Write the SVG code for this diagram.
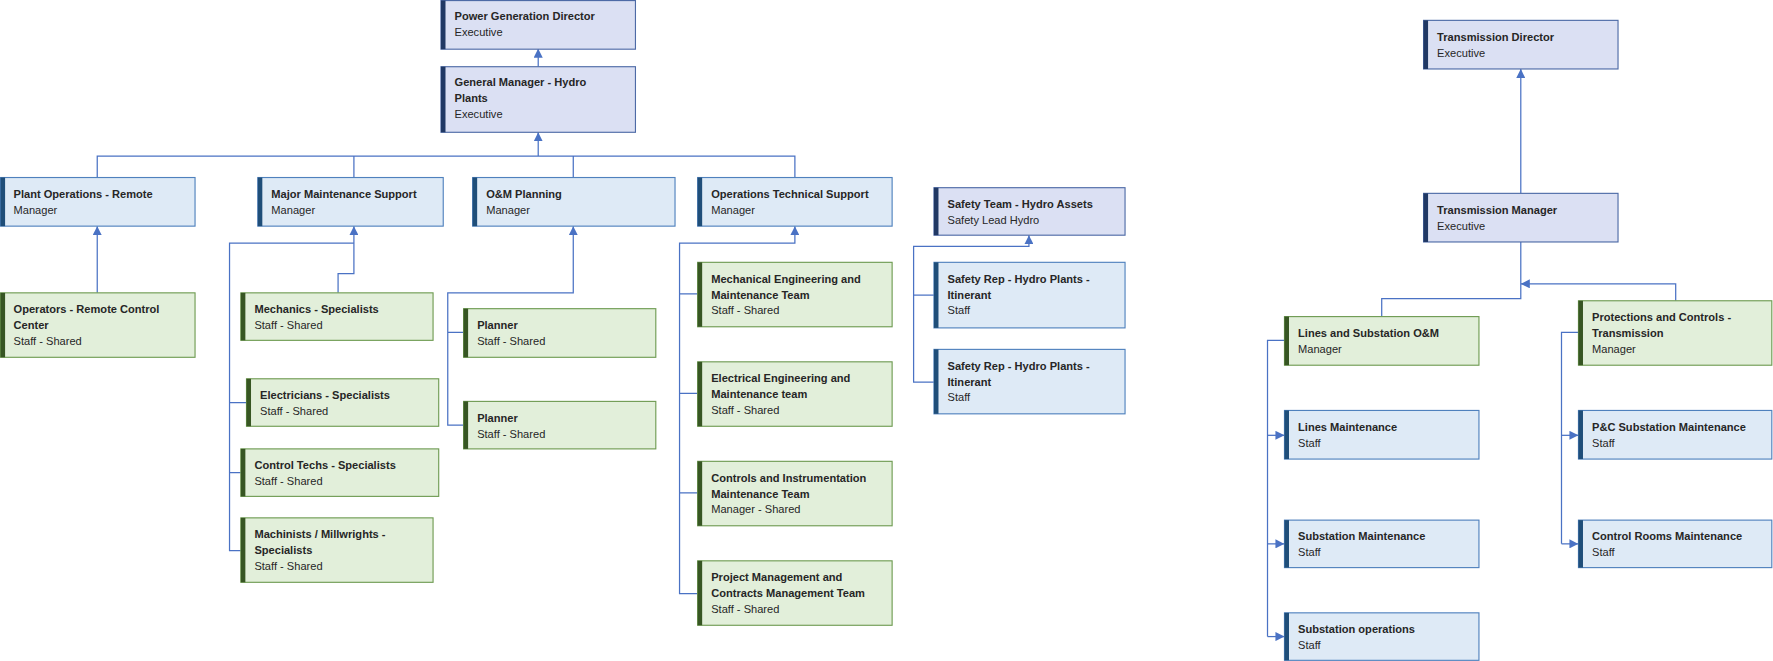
<svg xmlns="http://www.w3.org/2000/svg" width="1773" height="661" viewBox="0 0 1773 661">
<style>
.ex{fill:#dbe0f3;stroke:#4d6aa6;stroke-width:1}
.mg{fill:#deeaf6;stroke:#4f81bd;stroke-width:1}
.st{fill:#e2efda;stroke:#6f9b52;stroke-width:1}
.bex{fill:#203864}.bmg{fill:#1f4e79}.bst{fill:#375623}
text{font-family:"Liberation Sans",Arial,sans-serif;font-size:9.8px;fill:#262626}
.t{font-weight:bold}
.c{fill:none;stroke:#4a72c4;stroke-width:1.1}
</style>
<defs>
<marker id="ah" viewBox="0 0 10 10" refX="10" refY="5" markerWidth="8" markerHeight="8" markerUnits="userSpaceOnUse" orient="auto"><path d="M0,0L10,5L0,10z" fill="#4a72c4"/></marker>
</defs>
<rect width="1773" height="661" fill="#fff"/>
<g transform="scale(1.1307)">
<g id="connectors">
<path class="c" d="M476,59V43" marker-end="url(#ah)"/>
<path class="c" d="M86,157V138H703V157M313,157V138M507,157V138M476,138V117" marker-end="url(#ah)"/>
<path class="c" d="M86,259V200" marker-end="url(#ah)"/>
<path class="c" d="M299,259V242H313V200" marker-end="url(#ah)"/>
<path class="c" d="M213,487H203V215H313M218,356H203M213,418H203"/>
<path class="c" d="M410,294H396V376H410M396,294V259H507V200" marker-end="url(#ah)"/>
<path class="c" d="M617,260H601V525H617M601,348H617M601,436H617M601,260V215H703V200" marker-end="url(#ah)"/>
<path class="c" d="M826,338H808V218H910V208" marker-end="url(#ah)"/>
<path class="c" d="M808,261H826"/>
<path class="c" d="M1345,171V61" marker-end="url(#ah)"/>
<path class="c" d="M1222,280V264H1345V214M1482,266V251H1345" marker-end="url(#ah)"/>
<path class="c" d="M1136,301H1121V563"/>
<path class="c" d="M1121,385H1136" marker-end="url(#ah)"/>
<path class="c" d="M1121,481H1136" marker-end="url(#ah)"/>
<path class="c" d="M1121,563H1136" marker-end="url(#ah)"/>
<path class="c" d="M1396,294H1381V481"/>
<path class="c" d="M1381,385H1396" marker-end="url(#ah)"/>
<path class="c" d="M1381,481H1396" marker-end="url(#ah)"/>
</g>
<g id="n1"><rect class="ex" x="390" y="0.5" width="172" height="43"/><rect class="bex" x="390" y="0.5" width="4" height="43"/><text class="t" x="402" y="18">Power Generation Director</text><text x="402" y="32">Executive</text></g>
<g id="n2"><rect class="ex" x="390" y="59" width="172" height="58"/><rect class="bex" x="390" y="59" width="4" height="58"/><text class="t" x="402" y="76">General Manager - Hydro</text><text class="t" x="402" y="90">Plants</text><text x="402" y="104">Executive</text></g>
<g id="n3"><rect class="mg" x="0.5" y="157" width="172" height="43"/><rect class="bmg" x="0.5" y="157" width="4" height="43"/><text class="t" x="12" y="175">Plant Operations - Remote</text><text x="12" y="189">Manager</text></g>
<g id="n4"><rect class="mg" x="228" y="157" width="164" height="43"/><rect class="bmg" x="228" y="157" width="4" height="43"/><text class="t" x="240" y="175">Major Maintenance Support</text><text x="240" y="189">Manager</text></g>
<g id="n5"><rect class="mg" x="418" y="157" width="179" height="43"/><rect class="bmg" x="418" y="157" width="4" height="43"/><text class="t" x="430" y="175">O&amp;M Planning</text><text x="430" y="189">Manager</text></g>
<g id="n6"><rect class="mg" x="617" y="157" width="172" height="43"/><rect class="bmg" x="617" y="157" width="4" height="43"/><text class="t" x="629" y="175">Operations Technical Support</text><text x="629" y="189">Manager</text></g>
<g id="n7"><rect class="ex" x="826" y="166" width="169" height="42"/><rect class="bex" x="826" y="166" width="4" height="42"/><text class="t" x="838" y="184">Safety Team - Hydro Assets</text><text x="838" y="198">Safety Lead Hydro</text></g>
<g id="n8"><rect class="st" x="0.5" y="259" width="172" height="57"/><rect class="bst" x="0.5" y="259" width="4" height="57"/><text class="t" x="12" y="277">Operators - Remote Control</text><text class="t" x="12" y="291">Center</text><text x="12" y="305">Staff - Shared</text></g>
<g id="n9"><rect class="st" x="213" y="259" width="170" height="42"/><rect class="bst" x="213" y="259" width="4" height="42"/><text class="t" x="225" y="277">Mechanics - Specialists</text><text x="225" y="291">Staff - Shared</text></g>
<g id="n10"><rect class="st" x="218" y="335" width="170" height="42"/><rect class="bst" x="218" y="335" width="4" height="42"/><text class="t" x="230" y="353">Electricians - Specialists</text><text x="230" y="367">Staff - Shared</text></g>
<g id="n11"><rect class="st" x="213" y="397" width="175" height="42"/><rect class="bst" x="213" y="397" width="4" height="42"/><text class="t" x="225" y="415">Control Techs - Specialists</text><text x="225" y="429">Staff - Shared</text></g>
<g id="n12"><rect class="st" x="213" y="458" width="170" height="57"/><rect class="bst" x="213" y="458" width="4" height="57"/><text class="t" x="225" y="476">Machinists / Millwrights -</text><text class="t" x="225" y="490">Specialists</text><text x="225" y="504">Staff - Shared</text></g>
<g id="n13"><rect class="st" x="410" y="273" width="170" height="43"/><rect class="bst" x="410" y="273" width="4" height="43"/><text class="t" x="422" y="291">Planner</text><text x="422" y="305">Staff - Shared</text></g>
<g id="n14"><rect class="st" x="410" y="355" width="170" height="42"/><rect class="bst" x="410" y="355" width="4" height="42"/><text class="t" x="422" y="373">Planner</text><text x="422" y="387">Staff - Shared</text></g>
<g id="n15"><rect class="st" x="617" y="232" width="172" height="57"/><rect class="bst" x="617" y="232" width="4" height="57"/><text class="t" x="629" y="250">Mechanical Engineering and</text><text class="t" x="629" y="264">Maintenance Team</text><text x="629" y="278">Staff - Shared</text></g>
<g id="n16"><rect class="st" x="617" y="320" width="172" height="57"/><rect class="bst" x="617" y="320" width="4" height="57"/><text class="t" x="629" y="338">Electrical Engineering and</text><text class="t" x="629" y="352">Maintenance team</text><text x="629" y="366">Staff - Shared</text></g>
<g id="n17"><rect class="st" x="617" y="408" width="172" height="57"/><rect class="bst" x="617" y="408" width="4" height="57"/><text class="t" x="629" y="426">Controls and Instrumentation</text><text class="t" x="629" y="440">Maintenance Team</text><text x="629" y="454">Manager - Shared</text></g>
<g id="n18"><rect class="st" x="617" y="496" width="172" height="57"/><rect class="bst" x="617" y="496" width="4" height="57"/><text class="t" x="629" y="514">Project Management and</text><text class="t" x="629" y="528">Contracts Management Team</text><text x="629" y="542">Staff - Shared</text></g>
<g id="n19"><rect class="mg" x="826" y="232" width="169" height="58"/><rect class="bmg" x="826" y="232" width="4" height="58"/><text class="t" x="838" y="250">Safety Rep - Hydro Plants -</text><text class="t" x="838" y="264">Itinerant</text><text x="838" y="278">Staff</text></g>
<g id="n20"><rect class="mg" x="826" y="309" width="169" height="57"/><rect class="bmg" x="826" y="309" width="4" height="57"/><text class="t" x="838" y="327">Safety Rep - Hydro Plants -</text><text class="t" x="838" y="341">Itinerant</text><text x="838" y="355">Staff</text></g>
<g id="n21"><rect class="ex" x="1259" y="18" width="172" height="43"/><rect class="bex" x="1259" y="18" width="4" height="43"/><text class="t" x="1271" y="36">Transmission Director</text><text x="1271" y="50">Executive</text></g>
<g id="n22"><rect class="ex" x="1259" y="171" width="172" height="43"/><rect class="bex" x="1259" y="171" width="4" height="43"/><text class="t" x="1271" y="189">Transmission Manager</text><text x="1271" y="203">Executive</text></g>
<g id="n23"><rect class="st" x="1136" y="280" width="172" height="43"/><rect class="bst" x="1136" y="280" width="4" height="43"/><text class="t" x="1148" y="298">Lines and Substation O&amp;M</text><text x="1148" y="312">Manager</text></g>
<g id="n24"><rect class="st" x="1396" y="266" width="171" height="57"/><rect class="bst" x="1396" y="266" width="4" height="57"/><text class="t" x="1408" y="284">Protections and Controls -</text><text class="t" x="1408" y="298">Transmission</text><text x="1408" y="312">Manager</text></g>
<g id="n25"><rect class="mg" x="1136" y="363" width="172" height="43"/><rect class="bmg" x="1136" y="363" width="4" height="43"/><text class="t" x="1148" y="381">Lines Maintenance</text><text x="1148" y="395">Staff</text></g>
<g id="n26"><rect class="mg" x="1136" y="460" width="172" height="42"/><rect class="bmg" x="1136" y="460" width="4" height="42"/><text class="t" x="1148" y="478">Substation Maintenance</text><text x="1148" y="492">Staff</text></g>
<g id="n27"><rect class="mg" x="1136" y="542" width="172" height="42"/><rect class="bmg" x="1136" y="542" width="4" height="42"/><text class="t" x="1148" y="560">Substation operations</text><text x="1148" y="574">Staff</text></g>
<g id="n28"><rect class="mg" x="1396" y="363" width="171" height="43"/><rect class="bmg" x="1396" y="363" width="4" height="43"/><text class="t" x="1408" y="381">P&amp;C Substation Maintenance</text><text x="1408" y="395">Staff</text></g>
<g id="n29"><rect class="mg" x="1396" y="460" width="171" height="42"/><rect class="bmg" x="1396" y="460" width="4" height="42"/><text class="t" x="1408" y="478">Control Rooms Maintenance</text><text x="1408" y="492">Staff</text></g>
</g>
</svg>
